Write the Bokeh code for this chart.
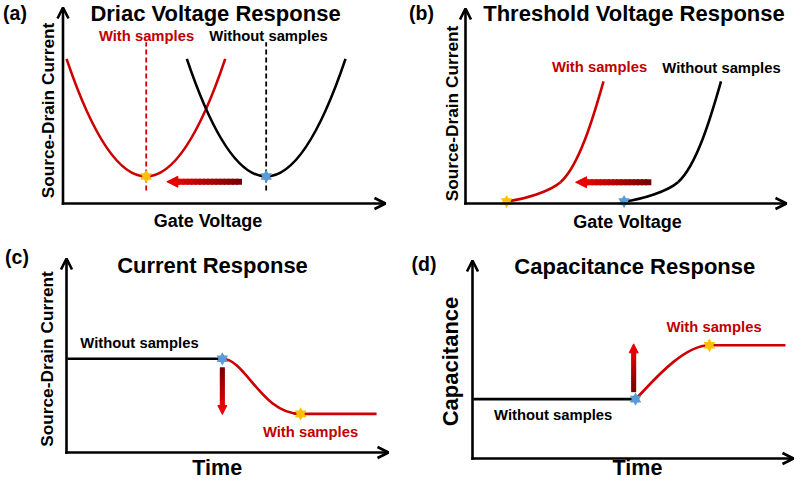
import math
import numpy as np
from bokeh.plotting import figure
from bokeh.models import Range1d, Label, Arrow, OpenHead, NormalHead
from bokeh.layouts import gridplot
from bokeh.embed import file_html
from bokeh.resources import INLINE

# ---------------- data (arbitrary units, every axis runs 0..10) ----------------
# (a) Dirac-point curves: left end, minimum (Dirac point), right end
dirac_without_v = [3.84, 6.30, 8.76]
dirac_without_i = [7.38, 1.38, 7.38]
dirac_with_v = [0.11, 2.58, 5.03]
dirac_with_i = [7.38, 1.38, 7.38]

# (b) threshold curves: anchor points and Bezier handles
thr_without_v = [4.94, 6.62, 7.96]
thr_without_i = [0.10, 1.09, 6.26]
thr_without_hv = [5.50, 6.29, 7.20, 7.65]
thr_without_hi = [0.21, 0.62, 1.94, 4.46]
thr_with_v = [1.28, 2.96, 4.30]
thr_with_i = [0.10, 1.09, 6.26]
thr_with_hv = [1.84, 2.63, 3.54, 3.99]
thr_with_hi = [0.21, 0.62, 1.94, 4.46]

# (c) source-drain current vs time
cur_without_t = [0.03, 4.84]
cur_without_i = [4.83, 4.83]
cur_with_t = [4.84, 7.27, 9.63]
cur_with_i = [4.83, 1.99, 1.99]
cur_with_ht = [5.56, 6.06]
cur_with_hi = [4.83, 1.99]

# (d) capacitance vs time
cap_without_t = [0.03, 5.08]
cap_without_c = [3.00, 3.00]
cap_with_t = [5.08, 7.38, 9.75]
cap_with_c = [3.00, 5.72, 5.72]
cap_with_ht = [5.39, 6.48]
cap_with_hc = [3.45, 5.72]

# shift arrows: tail x, tail y, tip x, tip y
shift_a = [5.55, 1.11, 3.22, 1.11]
shift_b = [5.79, 1.09, 3.43, 1.09]
shift_c = [4.84, 4.40, 4.84, 1.96]
shift_d = [5.02, 3.35, 5.02, 5.79]

# ---------------- layout ----------------
W, H = 398, 240
PANELS = {
    "a": dict(col=0, row=0, ox=62.5, oy=203, xt=385, yt=7),
    "b": dict(col=1, row=0, ox=465, oy=203, xt=786, yt=8),
    "c": dict(col=0, row=1, ox=66, oy=452, xt=388, yt=258),
    "d": dict(col=1, row=1, ox=472, oy=458, xt=793, yt=260),
}
FONT = "Liberation Sans"
RED = "#CC0000"
RED_TXT = "#C00000"
LW = 2.6


def make_panel(k):
    P = PANELS[k]
    ux = (P["xt"] - P["ox"]) / 10
    uy = (P["oy"] - P["yt"]) / 10
    lox = P["ox"] - W * P["col"]
    loy = P["oy"] - H * P["row"]
    p = figure(width=W, height=H, x_range=Range1d(-lox / ux, (W - lox) / ux),
               y_range=Range1d(-(H - loy) / uy, loy / uy),
               output_backend="svg", toolbar_location=None, tools="",
               x_axis_location=None, y_axis_location=None, title=None,
               min_border=0, outline_line_color=None,
               background_fill_color="white", border_fill_color="white")
    p.grid.grid_line_color = None
    P["ux"], P["uy"] = ux, uy
    # axis arrows
    p.add_layout(Arrow(end=OpenHead(size=11, line_width=LW, line_color="black"),
                       x_start=-LW / 2 / ux, y_start=0, x_end=10, y_end=0,
                       line_width=LW, line_color="black"))
    p.add_layout(Arrow(end=OpenHead(size=11, line_width=LW, line_color="black"),
                       x_start=0, y_start=-LW / 2 / uy, x_end=0, y_end=10,
                       line_width=LW, line_color="black"))
    return p, P


def R(P, rx, ry):
    return ((rx - P["ox"]) / (P["xt"] - P["ox"]) * 10,
            (P["oy"] - ry) / (P["oy"] - P["yt"]) * 10)


def txt(p, P, rx, ry, s, size, color="black", angle=0.0):
    x, y = R(P, rx, ry)
    p.add_layout(Label(x=x, y=y, text=s, text_font=FONT, text_font_style="bold",
                       text_font_size=f"{size}px", text_color=color,
                       text_align="center", text_baseline="middle", angle=angle))


def star(p, x, y, color):
    for m in ("triangle", "inverted_triangle"):
        p.scatter([x], [y], marker=m, size=11.5, fill_color=color, line_color=None)


def hexrgb(h):
    return np.array([int(h[i:i + 2], 16) for i in (1, 3, 5)], dtype=float)


def shift_arrow(p, P, arr, shaft_w, head, c_tail, c_tip, n=16):
    x0, y0, x1, y1 = arr
    dxp, dyp = (x1 - x0) * P["ux"], (y1 - y0) * P["uy"]
    L = math.hypot(dxp, dyp)
    fend = (L - head * 0.85) / L
    fs = np.linspace(0, fend, n + 1)
    a, b = hexrgb(c_tail), hexrgb(c_tip)
    cols = []
    for i in range(n):
        t = i / (n - 1)
        c = a + (b - a) * t
        cols.append("#%02x%02x%02x" % tuple(int(round(v)) for v in c))
    f0 = fs[:-1]
    f1 = np.minimum(fs[1:] + 0.5 * fend / n, fend)
    p.segment(x0 + (x1 - x0) * f0, y0 + (y1 - y0) * f0,
              x0 + (x1 - x0) * f1, y0 + (y1 - y0) * f1,
              line_color=cols, line_width=shaft_w, line_cap="butt")
    p.add_layout(Arrow(end=NormalHead(size=head, fill_color=c_tip, line_color=c_tip, line_width=1),
                       x_start=x0 + (x1 - x0) * fend, y_start=y0 + (y1 - y0) * fend,
                       x_end=x1, y_end=y1, line_alpha=0))


ANG = math.pi / 2

# ---------------- (a) ----------------
pa, A = make_panel("a")
for vx, vy, col in ((dirac_with_v, dirac_with_i, RED), (dirac_without_v, dirac_without_i, "black")):
    pa.quadratic(x0=[vx[0]], y0=[vy[0]], x1=[vx[2]], y1=[vy[2]],
                 cx=[vx[1]], cy=[2 * vy[1] - (vy[0] + vy[2]) / 2],
                 line_color=col, line_width=LW)
    y_lo, y_hi = R(A, 0, 190)[1], R(A, 0, 41.7)[1]
    pa.segment([vx[1]], [y_lo], [vx[1]], [y_hi], line_color=col, line_width=1.8, line_dash="5 3")
shift_arrow(pa, A, shift_a, 6, 11, "#780000", "#E60000")
star(pa, dirac_with_v[1], dirac_with_i[1], "#FFC000")
star(pa, dirac_without_v[1], dirac_without_i[1], "#5B9BD5")
txt(pa, A, 14.5, 12.5, "(a)", 19.5)
txt(pa, A, 215, 12.5, "Driac Voltage Response", 22)
txt(pa, A, 146, 35, "With samples", 14.8, RED_TXT)
txt(pa, A, 268, 35, "Without samples", 14.8)
txt(pa, A, 207.5, 220.5, "Gate Voltage", 18)
txt(pa, A, 47, 110, "Source-Drain Current", 17.3, angle=ANG)

# ---------------- (b) ----------------
pb, B = make_panel("b")
for vx, vy, hx, hy, col in ((thr_with_v, thr_with_i, thr_with_hv, thr_with_hi, RED),
                            (thr_without_v, thr_without_i, thr_without_hv, thr_without_hi, "black")):
    pb.bezier(x0=vx[:-1], y0=vy[:-1], x1=vx[1:], y1=vy[1:],
              cx0=hx[0::2], cy0=hy[0::2], cx1=hx[1::2], cy1=hy[1::2],
              line_color=col, line_width=LW)
shift_arrow(pb, B, shift_b, 6, 11, "#780000", "#E60000")
star(pb, thr_with_v[0], thr_with_i[0], "#FFC000")
star(pb, thr_without_v[0], thr_without_i[0], "#5B9BD5")
txt(pb, B, 421, 12.5, "(b)", 19.5)
txt(pb, B, 633.5, 12.5, "Threshold Voltage Response", 22)
txt(pb, B, 599, 66, "With samples", 14.8, RED_TXT)
txt(pb, B, 721, 67, "Without samples", 14.8)
txt(pb, B, 627, 221, "Gate Voltage", 18)
txt(pb, B, 451, 113, "Source-Drain Current", 17.3, angle=ANG)

# ---------------- (c) ----------------
pc, C = make_panel("c")
pc.line(cur_without_t, cur_without_i, line_color="black", line_width=LW)
pc.bezier(x0=[cur_with_t[0]], y0=[cur_with_i[0]], x1=[cur_with_t[1]], y1=[cur_with_i[1]],
          cx0=[cur_with_ht[0]], cy0=[cur_with_hi[0]], cx1=[cur_with_ht[1]], cy1=[cur_with_hi[1]],
          line_color=RED, line_width=LW)
pc.line(cur_with_t[1:], cur_with_i[1:], line_color=RED, line_width=LW)
shift_arrow(pc, C, shift_c, 5, 9, "#780000", "#E60000")
star(pc, cur_with_t[0], cur_with_i[0], "#5B9BD5")
star(pc, cur_with_t[1], cur_with_i[1], "#FFC000")
txt(pc, C, 16.5, 256.5, "(c)", 19.5)
txt(pc, C, 212, 264.5, "Current Response", 22)
txt(pc, C, 139, 342.5, "Without samples", 14.8)
txt(pc, C, 310, 431, "With samples", 14.8, RED_TXT)
txt(pc, C, 216.7, 467, "Time", 21.5)
txt(pc, C, 46.7, 358.5, "Source-Drain Current", 17.3, angle=ANG)

# ---------------- (d) ----------------
pd_, D = make_panel("d")
pd_.line(cap_without_t, cap_without_c, line_color="black", line_width=LW)
pd_.bezier(x0=[cap_with_t[0]], y0=[cap_with_c[0]], x1=[cap_with_t[1]], y1=[cap_with_c[1]],
           cx0=[cap_with_ht[0]], cy0=[cap_with_hc[0]], cx1=[cap_with_ht[1]], cy1=[cap_with_hc[1]],
           line_color=RED, line_width=LW)
pd_.line(cap_with_t[1:], cap_with_c[1:], line_color=RED, line_width=LW)
shift_arrow(pd_, D, shift_d, 5, 9, "#780000", "#E60000")
star(pd_, cap_with_t[0], cap_with_c[0], "#5B9BD5")
star(pd_, cap_with_t[1], cap_with_c[1], "#FFC000")
txt(pd_, D, 423.5, 263.5, "(d)", 19.5)
txt(pd_, D, 634.3, 265.5, "Capacitance Response", 22)
txt(pd_, D, 713.5, 326, "With samples", 14.8, RED_TXT)
txt(pd_, D, 552.7, 414, "Without samples", 14.8)
txt(pd_, D, 637, 467.5, "Time", 21.5)
txt(pd_, D, 449.5, 361, "Capacitance", 22, angle=ANG)

grid = gridplot([[pa, pb], [pc, pd_]], toolbar_location=None)
open("out.html", "w").write(file_html(grid, INLINE))
